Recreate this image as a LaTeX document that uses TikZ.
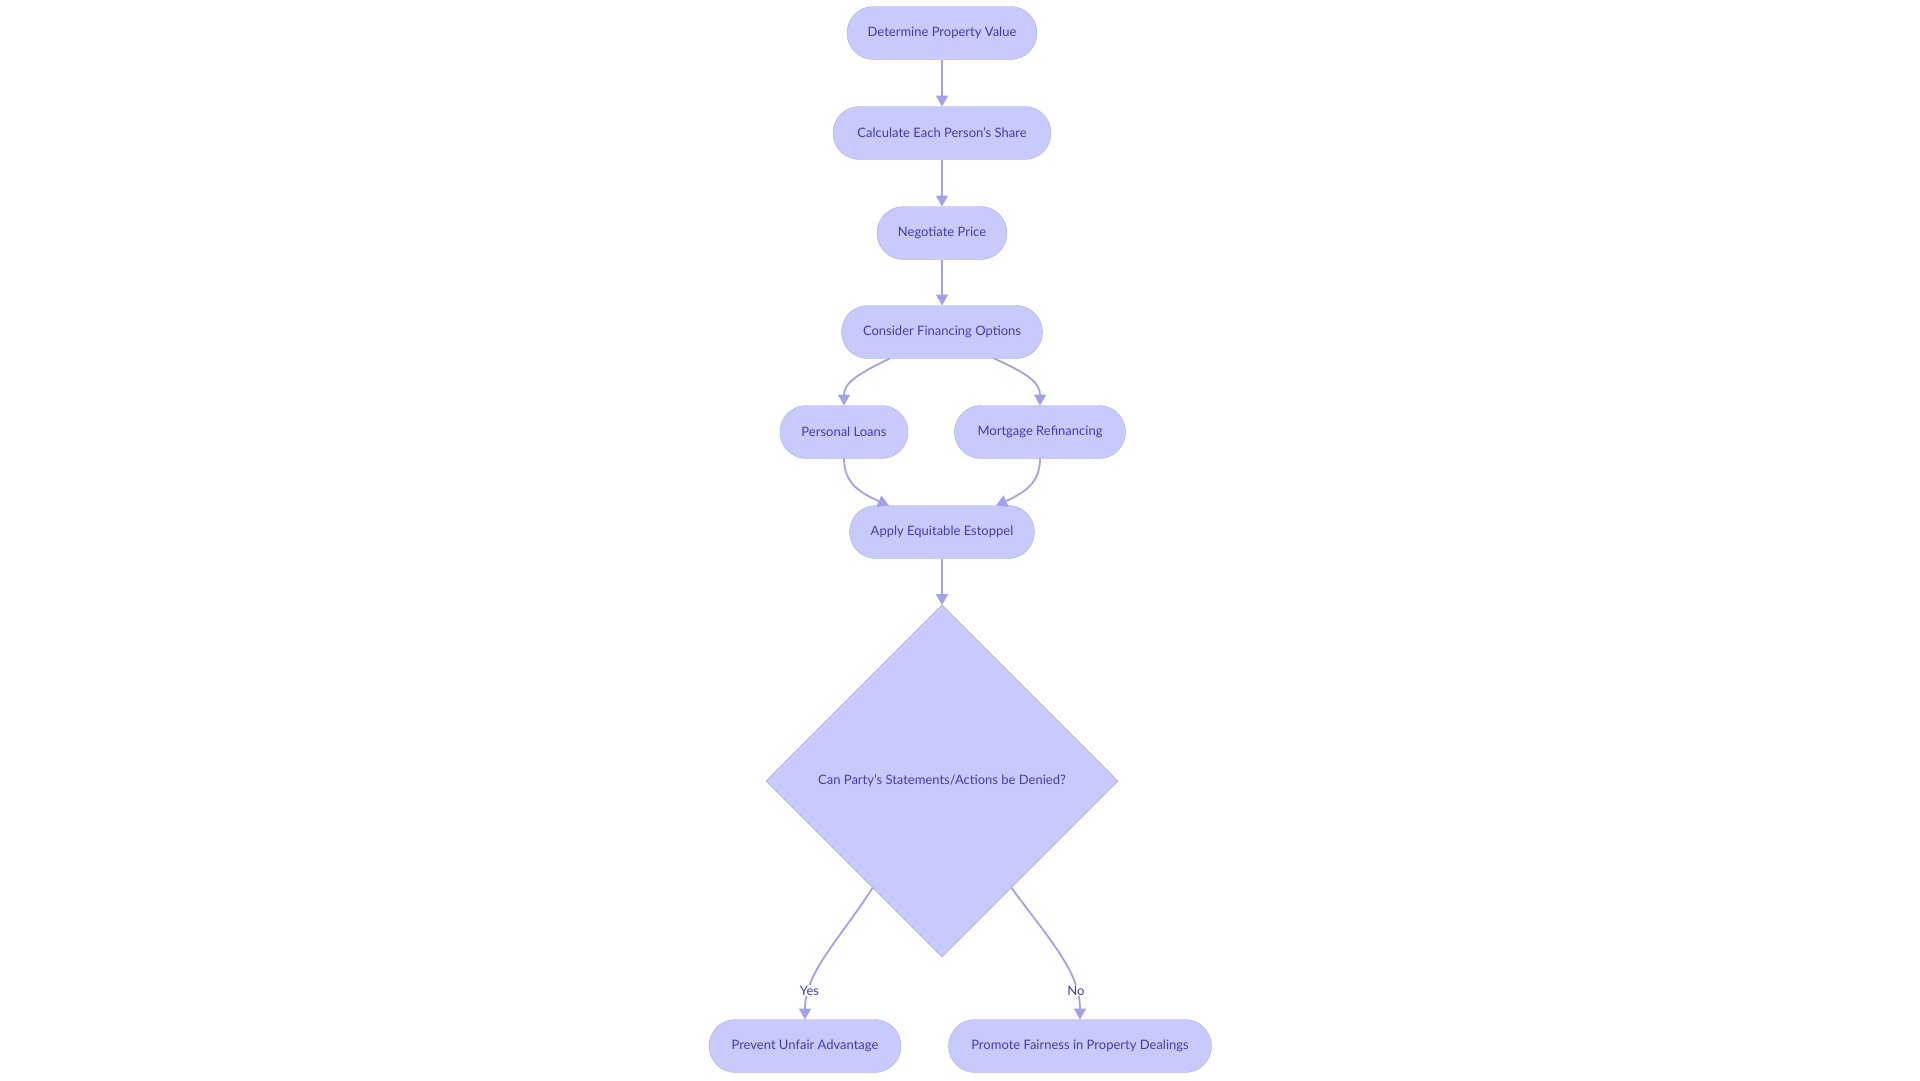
\documentclass[tikz,border=0pt]{standalone}
\usepackage{fontspec}
\setmainfont{Lato}
\usetikzlibrary{arrows.meta,shapes.geometric}
\definecolor{boxfill}{HTML}{C9CAFC}
\definecolor{boxline}{HTML}{A5A8EE}
\definecolor{linkline}{HTML}{9FA2EA}
\definecolor{boxtext}{HTML}{3C3EB4}
\tikzset{
	pill/.style={draw=boxline, fill=boxfill, text=boxtext, rounded corners=26.5pt, minimum height=53pt, inner xsep=4pt, outer sep=0pt, font=\fontsize{13pt}{15pt}\selectfont},
	decide/.style={diamond, draw=boxline, fill=boxfill, text=boxtext, minimum width=352pt, minimum height=352pt, inner sep=0pt, outer sep=0pt, font=\fontsize{13pt}{15pt}\selectfont},
	link/.style={draw=linkline, line width=1.8pt, -{Triangle[length=11pt,width=12pt]}},
	tag/.style={fill=white, text=boxtext, inner sep=1pt, font=\fontsize{13pt}{15pt}\selectfont}
}
\begin{document}
\begin{tikzpicture}[x=1pt, y=-1pt]
			\useasboundingbox (0,0) rectangle (1920,1080);
			\node[pill, minimum width=190pt] (value) at (942,33) {Determine Property Value};
			\node[pill, minimum width=218pt] (share) at (942,133) {Calculate Each Person’s Share};
			\node[pill, minimum width=130pt] (price) at (942,233) {Negotiate Price};
			\node[pill, minimum width=201pt] (finance) at (942,332) {Consider Financing Options};
			\node[pill, minimum width=128pt] (loans) at (844,432) {Personal Loans};
			\node[pill, minimum width=171pt] (refin) at (1040,432) {Mortgage Refinancing};
			\node[pill, minimum width=185pt] (estoppel) at (942,532) {Apply Equitable Estoppel};
			\node[decide] (denied) at (942,781) {Can Party’s Statements/Actions be Denied?};
			\node[pill, minimum width=192pt] (prevent) at (805,1046) {Prevent Unfair Advantage};
			\node[pill, minimum width=263pt] (promote) at (1080,1046) {Promote Fairness in Property Dealings};
			\draw[link] (value) -- (share);
			\draw[link] (share) -- (price);
			\draw[link] (price) -- (finance);
			\draw[link] ([xshift=-52pt]finance.south) .. controls +(-34,16) and +(0,-22) .. (loans.north);
			\draw[link] ([xshift=52pt]finance.south) .. controls +(36,16) and +(0,-22) .. (refin.north);
			\draw[link] (loans.south) .. controls +(0,24) and +(-30,-13) .. ([xshift=-53pt]estoppel.north);
			\draw[link] (refin.south) .. controls +(0,24) and +(29,-13) .. ([xshift=54pt]estoppel.north);
			\draw[link] (estoppel) -- (denied);
			\draw[link] (denied.237) .. controls +(-35,54) and +(0,-47) .. node[tag, pos=0.78] {Yes} (prevent.north);
			\draw[link] (denied.303) .. controls +(40,54) and +(0,-47) .. node[tag, pos=0.78] {No} (promote.north);
		\end{tikzpicture}
\end{document}
